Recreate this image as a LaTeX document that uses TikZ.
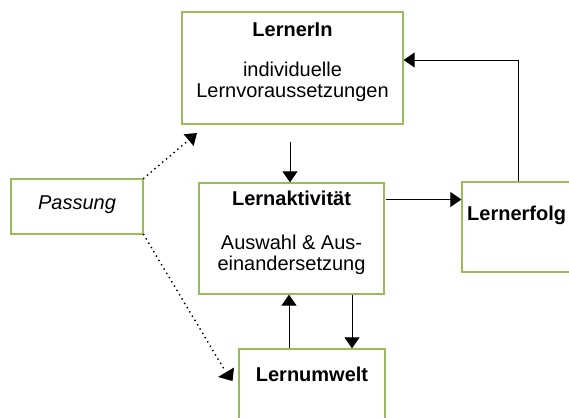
\documentclass[tikz,border=0pt]{standalone}
\usepackage{fontspec}
\setmainfont{Liberation Sans}
\usetikzlibrary{arrows.meta}
\definecolor{boxgreen}{RGB}{155,187,89}
\begin{document}
\begin{tikzpicture}[x=1pt,y=-1pt,
  box/.style={draw=boxgreen, line width=1.3pt, fill=white, inner sep=0pt, rectangle},
  txt/.style={font=\fontsize{20}{22}\selectfont, inner sep=0pt, anchor=base},
  conn/.style={line width=0.9pt, -{Triangle[length=11pt,width=15pt]}},
  dots/.style={line width=2pt, line cap=round, dash pattern=on 0pt off 5pt},
]
\useasboundingbox[fill=white] (0,0) rectangle (569,417);
\begin{scope}
\clip (0,0) rectangle (569,417);
% boxes
\node[box, minimum width=221pt, minimum height=112pt] (lerner) at (292.5,68) {};
\node[box, minimum width=132pt, minimum height=55pt] (passung) at (77,206.5) {};
\node[box, minimum width=185pt, minimum height=111pt] (akt) at (291.5,238.5) {};
\node[box, minimum width=138pt, minimum height=90pt] (erfolg) at (531,227) {};
\node[box, minimum width=146pt, minimum height=101pt] (umwelt) at (312,399.5) {};
% texts
\node[txt] (t1) at (292.5,36.5) {\bfseries LernerIn};
\node[txt] (t2) at (292.5,76.7) {individuelle};
\node[txt] (t3) at (292.5,98) {Lernvoraussetzungen};
\node[txt] (t4) at (291.5,205) {\bfseries Lernaktivität};
\node[txt] (t5) at (291.5,249.5) {Auswahl \& Aus-};
\node[txt] (t6) at (291.5,270.5) {einandersetzung};
\node[txt, anchor=base west] (t7) at (467,220) {\bfseries Lernerfolg};
\node[txt] (t8) at (312,381.5) {\bfseries Lernumwelt};
\node[txt] (t9) at (77,209) {\itshape Passung};
% connectors
\coordinate (c1) at (290,142);
\draw[conn] (c1) -- (c1 |- akt.north);
\coordinate (c2) at (386,199.5);
\draw[conn] (c2) -- (c2 -| erfolg.west);
\coordinate (c3) at (518,0);
\coordinate (c3b) at (518,60);
\draw[conn] (c3 |- erfolg.north) -- (c3b) -- (c3b -| lerner.east);
\coordinate (c4) at (289,0);
\draw[conn] (c4 |- umwelt.north) -- (c4 |- akt.south);
\coordinate (c5) at (352,0);
\draw[conn] (c5 |- akt.south) -- (c5 |- umwelt.north);
% dotted connectors
\coordinate (d1) at (197,133);
\draw[dots, -{Triangle[length=11pt,width=15pt]}] (passung.north east) -- (d1);
\coordinate (d2) at (224,369);
\draw[dots] (passung.south east) -- (d2);
\fill (218,377) -- (234,367.5) -- (232.5,381) -- cycle;
\end{scope}
\end{tikzpicture}
\end{document}
